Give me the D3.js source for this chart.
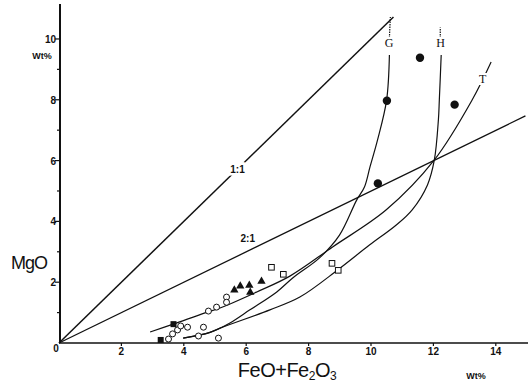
<!DOCTYPE html>
<html><head><meta charset="utf-8">
<script src="https://cdn.jsdelivr.net/npm/d3@7/dist/d3.min.js"></script>
<style>
html,body{margin:0;padding:0;background:#fff;}
svg{display:block;}
.tick{font-family:"Liberation Sans",Arial,sans-serif;font-weight:bold;font-size:10px;fill:#111;}
</style></head>
<body>
<svg id="c" width="528" height="382"></svg>
<script>
// ---- data ----
const xTicks = [2, 4, 6, 8, 10, 12, 14];
const yTicks = [2, 4, 6, 8, 10];
const yMinor = [1, 3, 5, 7, 9];
const ratioLine11 = [[0, 0], [10.72, 10.72]];
const ratioLine21 = [[0, 0], [14.95, 7.47]];
const curveT = [[2.92,0.36],[3.66,0.62],[4.68,0.99],[5.16,1.15],[6.34,1.68],[7.40,2.20],[8.77,3.16],[10.49,4.38],[12.03,6.02],[13.24,7.99],[13.85,9.24]];
const curveG = [[3.98,0.16],[4.84,0.35],[5.48,0.66],[6.12,1.09],[6.98,1.68],[7.49,2.14],[8.35,2.80],[8.99,3.55],[9.54,4.70],[9.79,5.13],[9.97,5.80],[10.21,6.68],[10.50,7.99],[10.59,9.47]];
const curveGtop = [[10.59,10.03],[10.62,10.72]];
const curveH = [[3.98,0.16],[4.84,0.35],[5.16,0.49],[6.76,1.09],[7.72,1.51],[8.93,2.40],[9.95,3.22],[10.81,3.88],[11.32,4.38],[11.81,5.20],[12.03,6.02],[12.16,7.34],[12.19,7.99],[12.25,9.47]];
const curveHtop = [[12.22,10.03],[12.22,10.38]];
const filledCircles = [[10.22,5.25],[10.51,7.97],[11.57,9.38],[12.68,7.84]];
const filledSquares = [[3.26,0.10],[3.67,0.62]];
const openCircles = [[3.51,0.13],[3.64,0.30],[3.80,0.43],[3.90,0.56],[4.12,0.52],[4.47,0.23],[4.63,0.52],[5.11,0.16],[4.79,1.05],[5.05,1.18],[5.37,1.51],[5.37,1.34]];
const triangles = [[5.62,1.74],[5.81,1.87],[6.10,1.90],[6.13,1.67],[6.49,2.03]];
const openSquares = [[6.81,2.49],[7.19,2.26],[8.75,2.62],[8.95,2.39]];
const curveLabels = [{t:"G",x:10.58,y:9.72},{t:"H",x:12.23,y:9.72},{t:"T",x:13.58,y:8.55}];
const ratioLabels = [{t:"1:1",x:5.72,y:5.58},{t:"2:1",x:6.05,y:3.32}];

// ---- scales ----
const svg = d3.select("#c");
const x = d3.scaleLinear().domain([0, 15]).range([59, 527]);
const y = d3.scaleLinear().domain([0, 11.15]).range([343, 4]);
const line = d3.line().x(d => x(d[0])).y(d => y(d[1])).curve(d3.curveCatmullRom.alpha(0.5));
const straight = d3.line().x(d => x(d[0])).y(d => y(d[1]));

// axes
svg.append("line").attr("x1", x(0)).attr("x2", 528).attr("y1", y(0)).attr("y2", y(0))
  .attr("stroke", "#111").attr("stroke-width", 1.6);
svg.append("line").attr("x1", x(0)+1).attr("x2", x(0)+1).attr("y1", y(0)).attr("y2", y(11.15))
  .attr("stroke", "#111").attr("stroke-width", 2);

const gx = svg.append("g");
gx.selectAll("line").data(xTicks).join("line")
  .attr("x1", d => x(d)).attr("x2", d => x(d)).attr("y1", y(0)).attr("y2", y(0)+3)
  .attr("stroke", "#111").attr("stroke-width", 1.2);
gx.selectAll("text").data(xTicks).join("text").attr("class", "tick")
  .attr("x", d => x(d)).attr("y", y(0)+12).attr("text-anchor", "middle").text(d => d);
svg.append("text").attr("class", "tick").attr("x", x(0)-3).attr("y", y(0)+9)
  .attr("text-anchor", "middle").text("0");

const gy = svg.append("g");
gy.selectAll("line.maj").data(yTicks).join("line").attr("class", "maj")
  .attr("x1", x(0)-4).attr("x2", x(0)+1).attr("y1", d => y(d)).attr("y2", d => y(d))
  .attr("stroke", "#111").attr("stroke-width", 1.2);
gy.selectAll("line.min").data(yMinor).join("line").attr("class", "min")
  .attr("x1", x(0)-2).attr("x2", x(0)+1).attr("y1", d => y(d)).attr("y2", d => y(d))
  .attr("stroke", "#111").attr("stroke-width", 1.2);
gy.selectAll("text").data(yTicks).join("text").attr("class", "tick")
  .attr("x", x(0)-3).attr("y", d => y(d)+4).attr("text-anchor", "end").text(d => d);

// axis titles
svg.append("text").attr("x", 29).attr("y", 269).attr("text-anchor", "middle")
  .attr("font-family", "'Liberation Sans',Arial,sans-serif").attr("font-size", 18)
  .attr("letter-spacing", -1).attr("fill", "#111").text("MgO");
const xt = svg.append("text").attr("x", 287).attr("y", 377).attr("text-anchor", "middle")
  .attr("font-family", "'Liberation Sans',Arial,sans-serif").attr("font-size", 20)
  .attr("letter-spacing", -0.5).attr("fill", "#111");
xt.append("tspan").text("FeO+Fe");
xt.append("tspan").attr("font-size", 12).attr("dy", 3).text("2");
xt.append("tspan").attr("dy", -3).text("O");
xt.append("tspan").attr("font-size", 12).attr("dy", 3).text("3");
svg.append("text").attr("x", 42).attr("y", 59).attr("text-anchor", "middle")
  .attr("font-family", "'Liberation Sans',Arial,sans-serif").attr("font-weight", "bold")
  .attr("font-size", 9).attr("fill", "#111").text("Wt%");
svg.append("text").attr("x", 476).attr("y", 379).attr("text-anchor", "middle")
  .attr("font-family", "'Liberation Sans',Arial,sans-serif").attr("font-weight", "bold")
  .attr("font-size", 9).attr("fill", "#111").text("Wt%");

// ratio lines
svg.append("path").attr("d", straight(ratioLine11)).attr("fill", "none").attr("stroke", "#111").attr("stroke-width", 1.5);
svg.append("path").attr("d", straight(ratioLine21)).attr("fill", "none").attr("stroke", "#111").attr("stroke-width", 1.3);

// trend curves
[curveT, curveG, curveH].forEach(c => {
  svg.append("path").attr("d", line(c)).attr("fill", "none").attr("stroke", "#111").attr("stroke-width", 1.2);
});
[curveGtop, curveHtop].forEach(c => {
  svg.append("path").attr("d", straight(c)).attr("fill", "none").attr("stroke", "#111")
    .attr("stroke-width", 1.2).attr("stroke-dasharray", "1.5,1");
});

// labels with halo
svg.selectAll("text.cl").data(curveLabels).join("text").attr("class", "cl")
  .attr("x", d => x(d.x)).attr("y", d => y(d.y)).attr("text-anchor", "middle")
  .attr("font-family", "'Liberation Serif','Times New Roman',serif").attr("font-size", 12)
  .attr("fill", "#111").attr("stroke", "#fff").attr("stroke-width", 4).attr("paint-order", "stroke")
  .text(d => d.t);
svg.selectAll("text.rl").data(ratioLabels).join("text").attr("class", "rl")
  .attr("x", d => x(d.x)).attr("y", d => y(d.y)).attr("text-anchor", "middle")
  .attr("font-family", "'Liberation Sans',Arial,sans-serif").attr("font-weight", "bold").attr("font-size", 10)
  .attr("fill", "#111").attr("stroke", "#fff").attr("stroke-width", 5).attr("paint-order", "stroke")
  .text(d => d.t);

// markers
svg.selectAll("circle.oc").data(openCircles).join("circle").attr("class", "oc")
  .attr("cx", d => x(d[0])).attr("cy", d => y(d[1])).attr("r", 3)
  .attr("fill", "#fff").attr("stroke", "#111").attr("stroke-width", 1);
svg.selectAll("circle.fc").data(filledCircles).join("circle").attr("class", "fc")
  .attr("cx", d => x(d[0])).attr("cy", d => y(d[1])).attr("r", 4.2).attr("fill", "#111");
svg.selectAll("rect.fs").data(filledSquares).join("rect").attr("class", "fs")
  .attr("x", d => x(d[0]) - 3).attr("y", d => y(d[1]) - 3).attr("width", 6).attr("height", 6).attr("fill", "#111");
svg.selectAll("rect.os").data(openSquares).join("rect").attr("class", "os")
  .attr("x", d => x(d[0]) - 2.8).attr("y", d => y(d[1]) - 2.8).attr("width", 5.6).attr("height", 5.6)
  .attr("fill", "#fff").attr("stroke", "#111").attr("stroke-width", 1);
const tri = d3.symbol().type(d3.symbolTriangle).size(30);
svg.selectAll("path.tr").data(triangles).join("path").attr("class", "tr")
  .attr("transform", d => `translate(${x(d[0])},${y(d[1])})`).attr("d", tri).attr("fill", "#111");
</script>
</body></html>
